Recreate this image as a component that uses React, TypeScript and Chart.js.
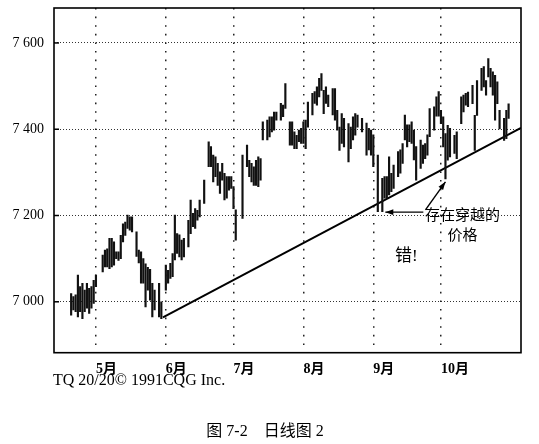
import React, { useEffect, useRef } from 'react';
import { Chart, registerables } from 'chart.js';

Chart.register(...registerables);

// Trading days (day number counted from 1 April)
const days = [
  19, 20, 21, 22, 23, 24, 25, 26, 27, 28, 29, 30,
  33, 34, 35, 36, 37, 38, 39, 40, 41, 42, 43, 44, 45, 46,
  48, 49, 50, 51, 52, 53, 54, 55, 56, 58, 59,
  61, 62, 63, 64, 65, 66, 67, 68, 69, 71, 72, 73, 74, 75, 76, 78,
  80, 81, 82, 83, 84, 85, 86, 87, 88, 89, 90, 91, 92,
  95, 97, 98, 99, 100, 101, 102, 103, 104, 106, 107, 108, 109, 110, 112, 113, 114,
  116, 117, 118, 119, 120, 121, 122, 123, 124, 126, 127, 128, 129, 130, 131, 132, 133,
  135, 136, 137, 138, 139, 140, 142, 143, 144, 145, 146, 148,
  150, 151, 152, 153, 155, 157, 158, 159, 160, 161, 162, 164, 165, 166, 167, 168, 169, 170, 171, 172,
  174, 175, 176, 177, 178, 180, 181, 182, 183, 184, 185, 186, 187, 189, 190,
  192, 193, 194, 195, 197, 198, 199, 201, 202, 203, 204, 205, 206, 207, 208, 209, 211, 212, 213,
];

const highs = [
  7019, 7012, 7016, 7062, 7035, 7043, 7027, 7043, 7031, 7035, 7050, 7062,
  7108, 7120, 7123, 7147, 7147, 7139, 7116, 7116, 7154, 7181, 7185, 7201, 7197, 7197,
  7162, 7120, 7116, 7100, 7088, 7080, 7075, 7043, 7027, 7043, 7000,
  7085, 7073, 7089, 7112, 7201, 7158, 7155, 7143, 7147, 7189, 7236, 7205, 7216, 7212, 7236, 7282,
  7371, 7360, 7340, 7336, 7321, 7301, 7321, 7298, 7290, 7290, 7290, 7267, 7213,
  7340, 7363, 7328, 7321, 7313, 7328, 7336, 7332, 7417, 7421, 7429, 7429, 7440, 7440, 7460, 7456, 7506,
  7417, 7417, 7394, 7386, 7398, 7402, 7417, 7421, 7463, 7483, 7487, 7498, 7518, 7529, 7490, 7498, 7479,
  7494, 7494, 7444, 7405, 7436, 7425, 7413, 7405, 7429, 7436, 7433, 7425,
  7414, 7402, 7398, 7387, 7340, 7286, 7290, 7290, 7336, 7298, 7317, 7348, 7352, 7367, 7433, 7410, 7410, 7417, 7398, 7360,
  7375, 7363, 7367, 7387, 7448, 7452, 7475, 7487, 7444, 7429, 7390, 7409, 7402, 7386, 7394,
  7475, 7479, 7483, 7486, 7502, 7432, 7513, 7541, 7545, 7513, 7564, 7541, 7533, 7525, 7510, 7444, 7425, 7444, 7459,
];

const lows = [
  6969, 6981, 6977, 6965, 6977, 6961, 6977, 6985, 6973, 6985, 6996, 7035,
  7069, 7081, 7081, 7077, 7081, 7085, 7100, 7096, 7100, 7139, 7154, 7170, 7166, 7162,
  7105, 7090, 7043, 7043, 6988, 7027, 7004, 6965, 6981, 6965, 6961,
  7027, 7043, 7054, 7058, 7097, 7112, 7104, 7097, 7104, 7127, 7158, 7174, 7170, 7189, 7197, 7228,
  7313, 7313, 7278, 7290, 7270, 7251, 7282, 7236, 7240, 7259, 7263, 7216, 7143,
  7193, 7313, 7290, 7278, 7270, 7270, 7267, 7282, 7375, 7375, 7382, 7394, 7398, 7421, 7421, 7429, 7448,
  7363, 7363, 7355, 7355, 7371, 7367, 7367, 7355, 7405, 7433, 7460, 7456, 7475, 7490, 7436, 7460, 7452,
  7433, 7421, 7398, 7351, 7367, 7359, 7324, 7355, 7375, 7386, 7405, 7394,
  7340, 7352, 7340, 7313, 7209, 7209, 7240, 7240, 7248, 7255, 7263, 7290, 7298, 7321, 7375, 7359, 7371, 7367, 7329, 7282,
  7309, 7321, 7332, 7340, 7383, 7398, 7430, 7430, 7413, 7359, 7285, 7328, 7336, 7344, 7332,
  7413, 7440, 7456, 7452, 7459, 7351, 7432, 7490, 7498, 7479, 7521, 7498, 7479, 7421, 7459, 7401, 7374, 7378, 7425,
];

const monthTicks = [30, 61, 91, 122, 153, 183];
const monthLabels = ['5月', '6月', '7月', '8月', '9月', '10月'];
const priceTicks = [7000, 7200, 7400, 7600];

const trendDays = [59.7, 218.5];
const trendPrices = [6964, 7403];

const xMin = 11.4;
const xMax = 218.5;
const yMin = 6882;
const yMax = 7681;

// bars the annotation arrows point at
const crossLeftDay = 157;
const crossLeftPrice = 7209;
const crossUpDay = 185;
const crossUpPrice = 7285;

const noteLine1 = '存在穿越的';
const noteLine2 = '价格';
const wrongText = '错!';
const creditText = 'TQ 20/20© 1991CQG Inc.';
const captionText = '图 7-2    日线图 2';

const SERIF = '"Liberation Serif", "Noto Sans CJK SC", serif';

export default function App() {
  const ref = useRef<HTMLCanvasElement>(null);

  useEffect(() => {
    document.body.style.margin = '0';
    const canvas = ref.current;
    if (!canvas) return;

    const overlay = {
      id: 'overlay',
      afterDraw(chart: any) {
        const { ctx, chartArea: a, scales } = chart;
        const x = scales.x;
        const y = scales.y;
        ctx.save();
        ctx.setLineDash([]);
        ctx.strokeStyle = '#000';
        ctx.fillStyle = '#000';

        // frame
        ctx.lineWidth = 1.6;
        ctx.strokeRect(a.left, a.top, a.right - a.left, a.bottom - a.top);

        // inward y ticks
        ctx.lineWidth = 1.5;
        priceTicks.forEach((v) => {
          const py = y.getPixelForValue(v);
          ctx.beginPath();
          ctx.moveTo(a.left, py);
          ctx.lineTo(a.left + 5, py);
          ctx.stroke();
        });

        const arrow = (x1: number, y1: number, x2: number, y2: number) => {
          ctx.lineWidth = 1.4;
          ctx.beginPath();
          ctx.moveTo(x1, y1);
          ctx.lineTo(x2, y2);
          ctx.stroke();
          const ang = Math.atan2(y2 - y1, x2 - x1);
          const len = 8;
          const half = 2.8;
          const bx = x2 - len * Math.cos(ang);
          const by = y2 - len * Math.sin(ang);
          ctx.beginPath();
          ctx.moveTo(x2, y2);
          ctx.lineTo(bx + half * Math.sin(ang), by - half * Math.cos(ang));
          ctx.lineTo(bx - half * Math.sin(ang), by + half * Math.cos(ang));
          ctx.closePath();
          ctx.fill();
        };

        const t1x = x.getPixelForValue(crossLeftDay) + 3;
        const t1y = y.getPixelForValue(crossLeftPrice) + 0.5;
        arrow(t1x + 38, t1y, t1x, t1y);

        const t2x = x.getPixelForValue(crossUpDay);
        const t2y = y.getPixelForValue(crossUpPrice) + 3;
        arrow(t2x - 20, t2y + 28, t2x, t2y);

        // annotation texts
        ctx.textBaseline = 'middle';
        ctx.textAlign = 'center';
        ctx.font = `15px ${SERIF}`;
        ctx.fillText(noteLine1, 462.5, 216);
        ctx.fillText(noteLine2, 462.5, 236);
        ctx.textAlign = 'left';
        ctx.font = `17px ${SERIF}`;
        ctx.fillText(wrongText, 395, 257);

        // credit and caption
        ctx.textBaseline = 'alphabetic';
        ctx.font = `16px ${SERIF}`;
        ctx.fillText(creditText, 53, 385);
        ctx.textAlign = 'center';
        ctx.textBaseline = 'middle';
        ctx.font = `16px ${SERIF}`;
        ctx.fillText(captionText, 265, 432);
        ctx.restore();
      },
    };

    const barData = days.map((d, i) => ({ x: d, y: [lows[i], highs[i]] }));
    const trendData = trendDays.map((d, i) => ({ x: d, y: trendPrices[i] }));

    const zeroPad = (s: any) => {
      s.paddingTop = 0;
      s.paddingBottom = 0;
      s.paddingLeft = 0;
      s.paddingRight = 0;
    };

    const chart = new Chart(canvas, {
      type: 'bar',
      data: {
        datasets: [
          {
            type: 'bar',
            data: barData as any,
            backgroundColor: '#111',
            borderWidth: 0,
            barThickness: 1.5,
            grouped: false,
          } as any,
          {
            type: 'line',
            data: trendData as any,
            borderColor: '#000',
            borderWidth: 2,
            pointRadius: 0,
            fill: false,
            tension: 0,
          } as any,
        ],
      },
      options: {
        responsive: false,
        animation: false,
        events: [],
        layout: { padding: { top: 8, right: 18, left: 0, bottom: 0 } },
        plugins: {
          legend: { display: false },
          tooltip: { enabled: false },
          title: { display: false },
        },
        scales: {
          x: {
            type: 'linear',
            min: xMin,
            max: xMax,
            offset: false,
            afterFit: (s: any) => {
              s.height = 91.3;
              zeroPad(s);
            },
            afterBuildTicks: (s: any) => {
              s.ticks = monthTicks.map((v) => ({ value: v }));
            },
            grid: {
              offset: false,
              color: '#222',
              lineWidth: 1.5,
              drawTicks: false,
            },
            border: { display: false, dash: [1.6, 7] },
            ticks: {
              autoSkip: false,
              maxRotation: 0,
              align: 'start',
              padding: 8,
              color: '#000',
              font: { family: SERIF, size: 14, weight: 'bold' },
              callback: (v: any) => {
                const i = monthTicks.indexOf(Number(v));
                return i >= 0 ? monthLabels[i] : '';
              },
            },
          } as any,
          y: {
            type: 'linear',
            min: yMin,
            max: yMax,
            afterFit: (s: any) => {
              s.width = 54;
              zeroPad(s);
            },
            afterBuildTicks: (s: any) => {
              s.ticks = priceTicks.map((v) => ({ value: v }));
            },
            grid: {
              color: '#333',
              lineWidth: 1,
              drawTicks: false,
            },
            border: { display: false, dash: [1, 2] },
            ticks: {
              padding: 10,
              color: '#000',
              font: { family: SERIF, size: 14 },
              callback: (v: any) => String(v).replace(/(\d)(\d{3})$/, '$1 $2'),
            },
          } as any,
        },
      },
      plugins: [overlay],
    });

    return () => chart.destroy();
  }, []);

  return <canvas ref={ref} width={539} height={444} style={{ display: 'block' }} />;
}
